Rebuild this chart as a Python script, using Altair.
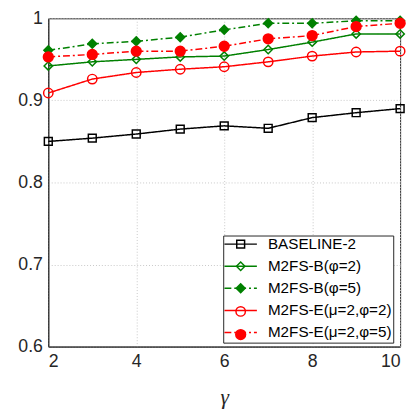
import altair as alt
import pandas as pd

gamma = [2, 3, 4, 5, 6, 7, 8, 9, 10]
series_names = ["BASELINE-2", "M2FS-B(φ=2)", "M2FS-B(φ=5)", "M2FS-E(μ=2,φ=2)", "M2FS-E(μ=2,φ=5)"]
baseline = [0.850, 0.854, 0.859, 0.865, 0.869, 0.866, 0.879, 0.885, 0.890]
b_phi2 = [0.942, 0.947, 0.950, 0.953, 0.954, 0.962, 0.971, 0.981, 0.981]
b_phi5 = [0.961, 0.969, 0.972, 0.977, 0.986, 0.994, 0.994, 0.997, 0.997]
e_phi2 = [0.909, 0.926, 0.934, 0.938, 0.941, 0.947, 0.954, 0.959, 0.960]
e_phi5 = [0.953, 0.956, 0.960, 0.960, 0.966, 0.975, 0.979, 0.990, 0.994]

line_colors = ["#000000", "#008000", "#008000", "#ff0000", "#ff0000"]
fill_colors = ["transparent", "transparent", "#008000", "transparent", "#ff0000"]
shapes = ["square", "diamond", "diamond", "circle", "circle"]
marker_sizes = [64, 100, 150, 85, 130]
dashes = [[1, 0], [1, 0], [7, 3, 2, 3], [1, 0], [7, 3, 2, 3]]

# marker-layer keys (a trailing space keeps the marker legend separate from the line legend)
pt_names = [n + " " for n in series_names]

rows = []
for name, pname, vals in zip(series_names, pt_names, [baseline, b_phi2, b_phi5, e_phi2, e_phi5]):
    for g, v in zip(gamma, vals):
        rows.append({"gamma": g, "value": v, "series": name, "series_pt": pname})
df = pd.DataFrame(rows)

FONT = "Liberation Sans"
LFS = 15.5
legend_x, legend_y = 178, 221

x = alt.X("gamma:Q", title="γ",
          scale=alt.Scale(domain=[2, 10], nice=False),
          axis=alt.Axis(values=[2, 4, 6, 8, 10], format="d"))
y = alt.Y("value:Q", title=None,
          scale=alt.Scale(domain=[0.6, 1.0], nice=False, zero=False),
          axis=alt.Axis(values=[0.6, 0.7, 0.8, 0.9, 1.0],
                        labelExpr="datum.value == 1 ? '1' : format(datum.value, '.1f')"))

line_legend = alt.Legend(orient="none", legendX=legend_x, legendY=legend_y,
                         title=None, symbolType="M-3,0H3",
                         symbolSize=121, symbolStrokeWidth=1.5,
                         symbolOffset=9, labelOffset=20, padding=1,
                         rowPadding=5.5, labelFontSize=LFS, labelFont=FONT,
                         labelColor="#000000",
                         strokeColor="#262626", fillColor="white",
                         cornerRadius=0)

pt_legend = alt.Legend(orient="none", legendX=legend_x, legendY=legend_y,
                       title=None, symbolOffset=9, padding=1,
                       rowPadding=5.5, labelFontSize=LFS, labelFont=FONT,
                       labelExpr="''", symbolStrokeWidth=1.5,
                       symbolOpacity=1, labelOffset=20)

lines = alt.Chart(df).mark_line(strokeWidth=1.5).encode(
    x=x, y=y,
    color=alt.Color("series:N",
                    scale=alt.Scale(domain=series_names, range=line_colors),
                    legend=line_legend),
    strokeDash=alt.StrokeDash("series:N",
                              scale=alt.Scale(domain=series_names, range=dashes),
                              legend=line_legend),
    order="gamma:Q",
)

points = alt.Chart(df).mark_point(strokeWidth=1.5, opacity=1, filled=False).encode(
    x=x, y=y,
    shape=alt.Shape("series_pt:N",
                    scale=alt.Scale(domain=pt_names, range=shapes),
                    legend=pt_legend),
    fill=alt.Fill("series_pt:N", scale=alt.Scale(domain=pt_names, range=fill_colors),
                  legend=pt_legend),
    stroke=alt.Stroke("series_pt:N", scale=alt.Scale(domain=pt_names, range=line_colors),
                      legend=pt_legend),
    size=alt.Size("series_pt:N", scale=alt.Scale(domain=pt_names, range=marker_sizes),
                  legend=pt_legend),
)

chart = alt.layer(lines, points).properties(
    width=358, height=334,
    autosize=alt.AutoSizeParams(type="none"),
    padding={"left": 41, "top": 7, "right": 7, "bottom": 60},
    background="white",
).configure_view(
    stroke="#262626", strokeWidth=1,
).configure_axis(
    labelFont=FONT, labelFontSize=18, labelColor="#262626",
    domainColor="#262626", ticks=False, labelPadding=6,
    grid=True, gridColor="#c8c8c8", gridDash=[1, 2], gridWidth=1,
    titleFont="Liberation Serif", titleFontSize=22, titleFontStyle="italic",
    titleFontWeight="normal", titleColor="#262626", titlePadding=17,
)

chart.save("out.html", embed_options={"renderer": "svg", "actions": False})
